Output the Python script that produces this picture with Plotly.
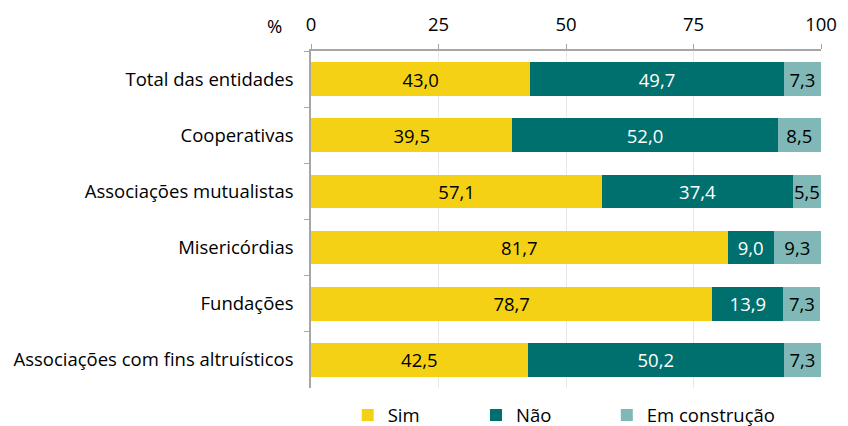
import plotly.graph_objects as go

categories = ["Total das entidades", "Cooperativas", "Associações mutualistas",
              "Misericórdias", "Fundações", "Associações com fins altruísticos"]
sim = [43.0, 39.5, 57.1, 81.7, 78.7, 42.5]
nao = [49.7, 52.0, 37.4, 9.0, 13.9, 50.2]
em_construcao = [7.3, 8.5, 5.5, 9.3, 7.3, 7.3]
series = [("Sim", sim, "#F5D116", "#000000", "legend", 0.072),
          ("Não", nao, "#00706E", "#FFFFFF", "legend2", 0.3235),
          ("Em construção", em_construcao, "#7FB8B7", "#000000", "legend3", 0.580)]
tick_vals = [0, 25, 50, 75, 100]

FONT = "Open Sans, sans-serif"
FS = 18.5
fig = go.Figure()
legends = {}
for name, vals, color, tcolor, leg, lx in series:
    fig.add_trace(go.Bar(
        y=categories, x=vals, name=name, orientation="h", legend=leg,
        showlegend=True,
        marker=dict(color=color, line=dict(width=0)),
        texttemplate="%{x:.1f}", textposition="inside", insidetextanchor="middle",
        textangle=0,
        textfont=dict(color=tcolor, size=FS, family=FONT),
        constraintext="none", cliponaxis=False,
    ))
    legends[leg] = dict(orientation="h", x=lx, xanchor="left", y=-0.025,
                        yanchor="top", font=dict(size=FS), itemwidth=30,
                        bgcolor="rgba(0,0,0,0)", visible=True)

# page is rendered with an 8px body margin: figure sits at (8, 8)
fig.update_layout(
    barmode="stack", bargap=0.40, separators=", ",
    width=840, height=418, showlegend=True,
    margin=dict(l=303, r=27, t=43, b=38, autoexpand=False),
    paper_bgcolor="white", plot_bgcolor="white",
    font=dict(family=FONT, size=FS, color="#000000"),
    uniformtext=dict(mode="show", minsize=FS),
    xaxis=dict(side="top", range=[0, 100], tickvals=tick_vals,
               showgrid=True, gridcolor="#E8E8E8", gridwidth=1,
               showline=True, linecolor="#A6A6A6", linewidth=1.5,
               ticks="outside", ticklen=5, tickcolor="#A6A6A6",
               ticklabelstandoff=6,
               tickfont=dict(size=FS), zeroline=False, fixedrange=True),
    yaxis=dict(autorange="reversed", showline=True, linecolor="#A6A6A6",
               linewidth=1.5, ticks="outside", ticklen=5, tickcolor="#A6A6A6",
               tickson="boundaries", tickfont=dict(size=FS), ticklabelstandoff=12,
               showgrid=False),
    annotations=[dict(text="%", xref="paper", yref="paper", x=-0.09, y=1.0,
                      yanchor="middle", yshift=26, showarrow=False,
                      font=dict(size=FS))],
    **legends,
)
fig.write_html("out.html")
